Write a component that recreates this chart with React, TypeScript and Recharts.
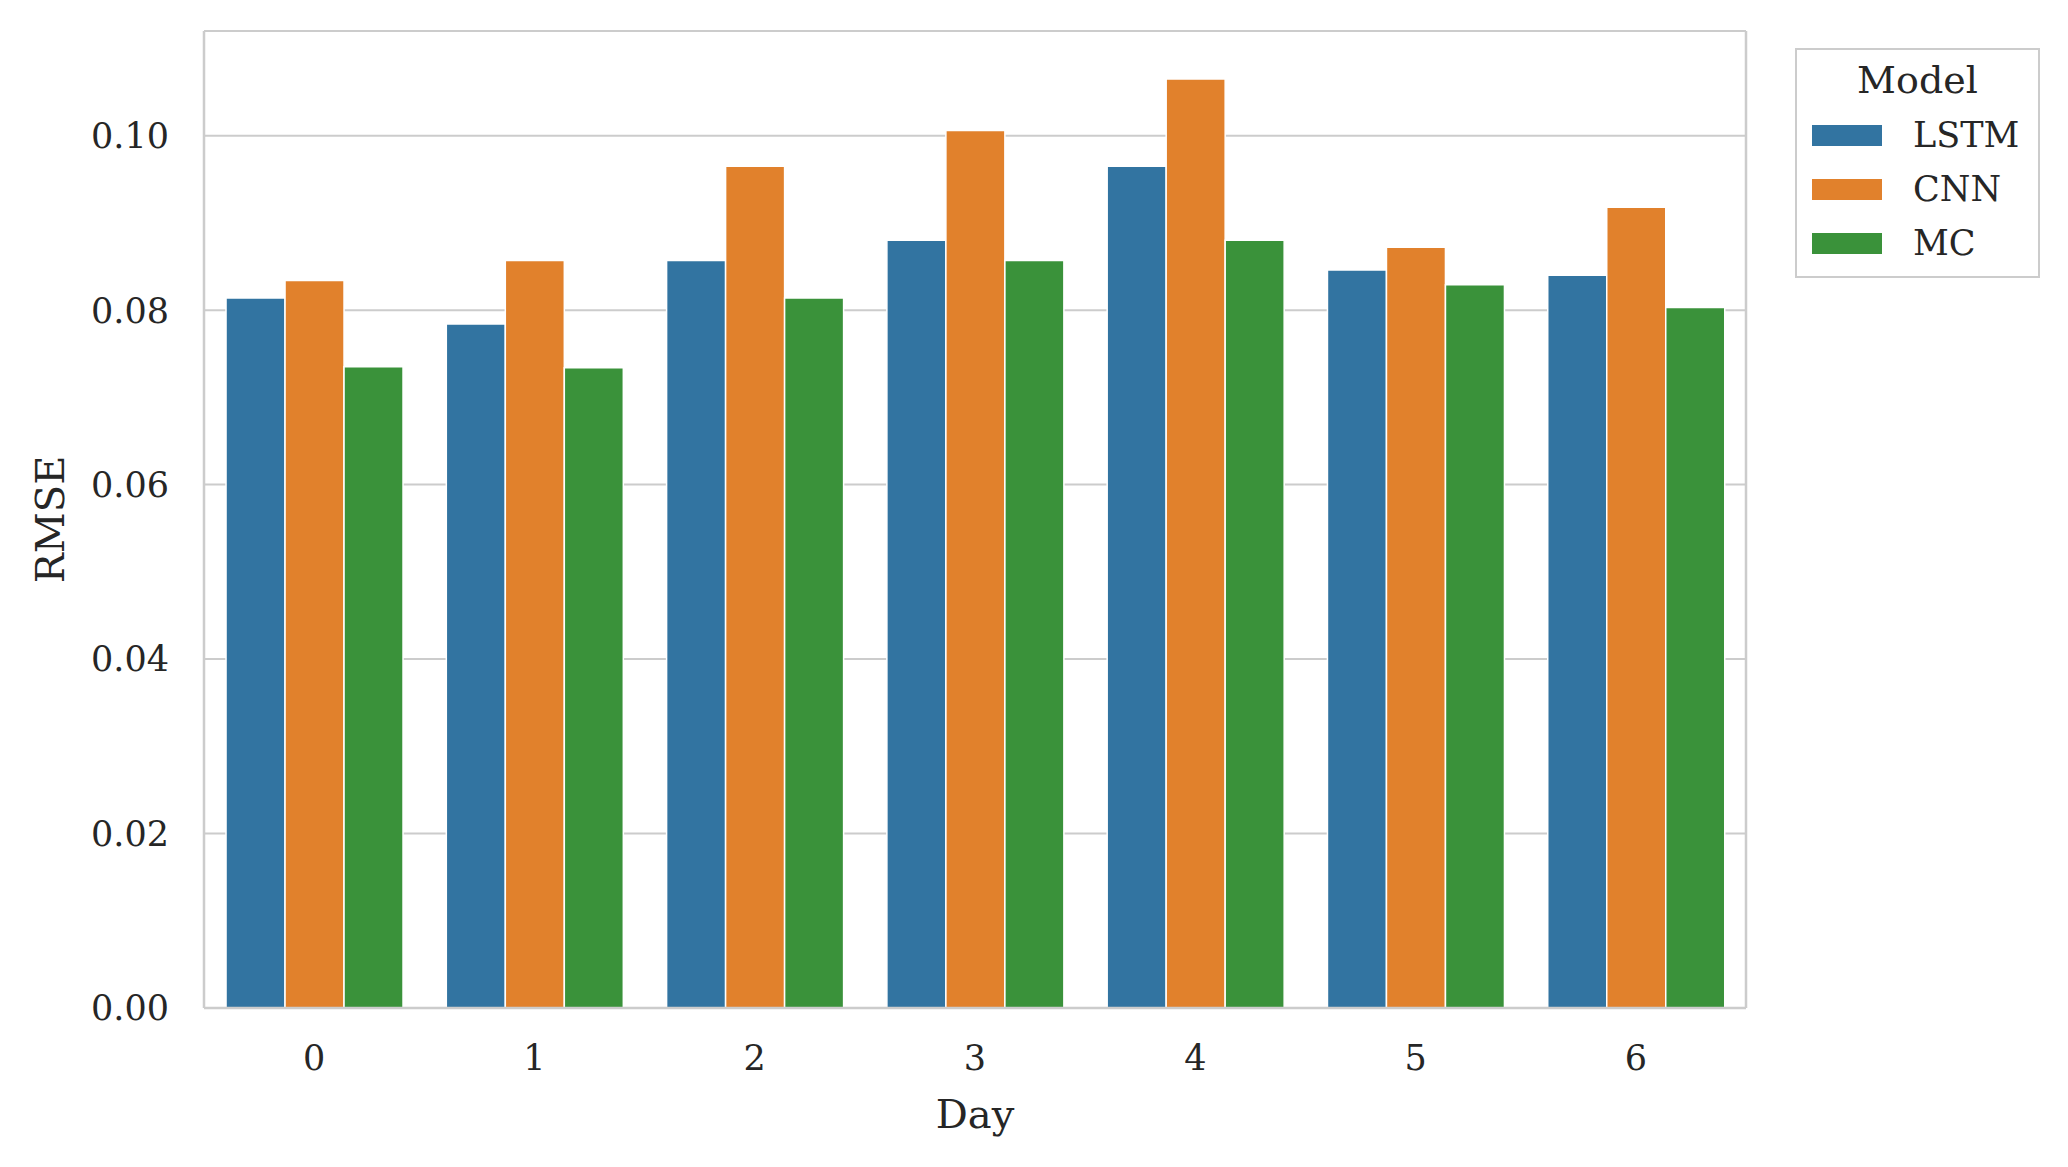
import React from "react"
import { BarChart, Bar, XAxis, YAxis, CartesianGrid, Legend } from "recharts"

const days = ["0", "1", "2", "3", "4", "5", "6"]
const lstm = [0.0814, 0.0784, 0.0857, 0.088, 0.0965, 0.0846, 0.084]
const cnn = [0.0834, 0.0857, 0.0965, 0.1006, 0.1065, 0.0872, 0.0918]
const mc = [0.0735, 0.0734, 0.0814, 0.0857, 0.088, 0.0829, 0.0803]
const yTicks = [0, 0.02, 0.04, 0.06, 0.08, 0.1]

const series = [
  { key: "LSTM", color: "#3274a1" },
  { key: "CNN", color: "#e1812c" },
  { key: "MC", color: "#3a923a" },
]

const data = days.map((day, i) => ({ day, LSTM: lstm[i], CNN: cnn[i], MC: mc[i] }))

const font = "'DejaVu Serif', serif"
const ink = "#262626"
const border = "#cccccc"

function LegendBox({ payload }: any) {
  const order = series.map((s) => s.key)
  const items = [...(payload || [])].sort((a: any, b: any) => order.indexOf(a.value) - order.indexOf(b.value))
  return (
    <div
      style={{
        boxSizing: "border-box",
        width: 245,
        height: 230,
        border: `2.5px solid ${border}`,
        background: "#fff",
        fontFamily: font,
        color: ink,
        paddingTop: 7,
      }}
    >
      <div style={{ textAlign: "center", fontSize: 38, lineHeight: "46px", marginBottom: 5 }}>Model</div>
      {items.map((p: any) => (
        <div key={p.value} style={{ display: "flex", alignItems: "center", height: 54, marginLeft: 15 }}>
          <span style={{ display: "inline-block", width: 70, height: 21, background: p.color }} />
          <span style={{ fontSize: 35, marginLeft: 31 }}>{p.value}</span>
        </div>
      ))}
    </div>
  )
}

export default function App() {
  return (
    <div style={{ position: "absolute", left: 0, top: 0, background: "#fff" }}>
      <BarChart
        width={2068}
        height={1167}
        data={data}
        margin={{ top: 31, right: 321, bottom: 0, left: 0 }}
        barCategoryGap="10%"
        barGap={0}
      >
        <CartesianGrid vertical={false} stroke={border} strokeWidth={2} />
        <XAxis
          dataKey="day"
          height={159}
          tickSize={0}
          tickMargin={37}
          tickLine={false}
          axisLine={{ stroke: border, strokeWidth: 2.5 }}
          tick={{ fontSize: 35, fill: ink, fontFamily: font }}
          label={{
            content: ({ viewBox }: any) => (
              <text
                x={viewBox.x + viewBox.width / 2}
                y={viewBox.y + 120}
                textAnchor="middle"
                fontSize={40}
                fill={ink}
                fontFamily={font}
              >
                Day
              </text>
            ),
          }}
        />
        <XAxis xAxisId="top" dataKey="day" orientation="top" height={0} tick={false} tickLine={false} axisLine={{ stroke: border, strokeWidth: 2.5 }} />
        <YAxis
          width={204}
          domain={[0, 0.112]}
          ticks={yTicks}
          tickSize={0}
          tickMargin={35}
          tickLine={false}
          allowDataOverflow
          tickFormatter={(v: number) => v.toFixed(2)}
          axisLine={{ stroke: border, strokeWidth: 2.5 }}
          tick={{ fontSize: 35, fill: ink, fontFamily: font }}
          label={{
            content: ({ viewBox }: any) => {
              const cx = 50
              const cy = viewBox.y + viewBox.height / 2
              return (
                <text
                  x={cx}
                  y={cy}
                  transform={`rotate(-90 ${cx} ${cy})`}
                  textAnchor="middle"
                  dominantBaseline="central"
                  fontSize={40}
                  fill={ink}
                  fontFamily={font}
                >
                  RMSE
                </text>
              )
            },
          }}
        />
        <YAxis
          yAxisId="right"
          orientation="right"
          width={1}
          domain={[0, 0.112]}
          tick={false}
          tickLine={false}
          axisLine={{ stroke: border, strokeWidth: 2.5 }}
        />
        {series.map((s) => (
          <Bar key={s.key} dataKey={s.key} fill={s.color} stroke="#ffffff" strokeWidth={1.5} isAnimationActive={false} />
        ))}
        <Legend
          layout="vertical"
          align="center"
          verticalAlign="middle"
          content={<LegendBox />}
          wrapperStyle={{ left: 1795, top: 48, width: 245, height: 230 }}
        />
      </BarChart>
    </div>
  )
}
